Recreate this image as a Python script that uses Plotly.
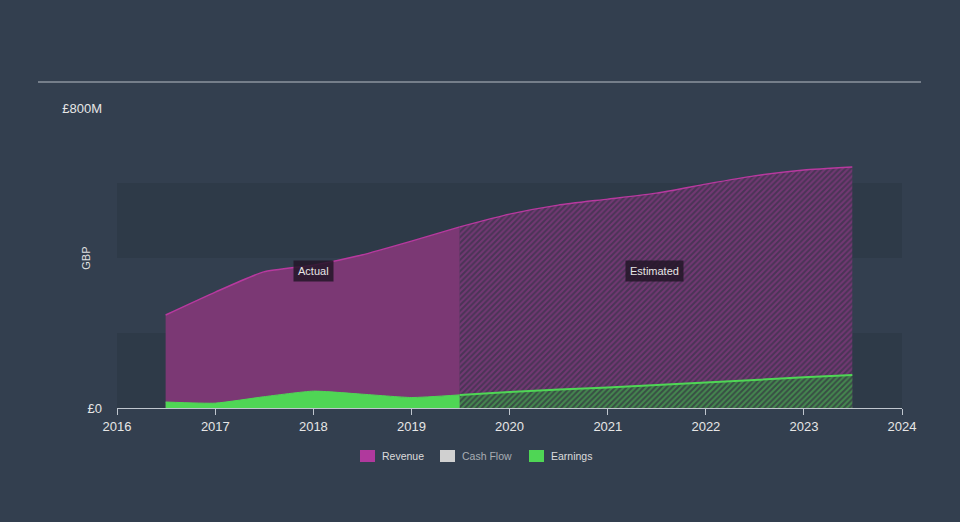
import plotly.graph_objects as go

# ---- data (GBP millions) ----
rev_act_dates = ["2016-06-30", "2017-01-01", "2017-06-30", "2018-01-01", "2018-06-30", "2019-01-01", "2019-06-30"]
rev_act_vals = [248, 309, 363, 381, 408, 445, 483]
rev_est_dates = ["2019-06-30", "2020-01-01", "2020-06-30", "2021-01-01", "2021-06-30", "2022-01-01", "2022-06-30", "2023-01-01", "2023-06-30"]
rev_est_vals = [483, 517, 541, 557, 573, 597, 619, 635, 643]

earn_act_dates = ["2016-06-30", "2017-01-01", "2017-06-30", "2018-01-01", "2018-06-30", "2019-01-01", "2019-06-30"]
earn_act_vals = [16, 13, 30, 45, 37, 28, 35]
earn_est_dates = ["2019-06-30", "2020-01-01", "2021-01-01", "2022-01-01", "2023-01-01", "2023-06-30"]
earn_est_vals = [35, 43, 55, 68, 82, 88]

y_tick_vals = [0, 800]
y_tick_text = ["£0", "£800M"]
x_tick_vals = ["2016-01-01", "2017-01-01", "2018-01-01", "2019-01-01", "2020-01-01",
               "2021-01-01", "2022-01-01", "2023-01-01", "2024-01-01"]
x_tick_text = ["2016", "2017", "2018", "2019", "2020", "2021", "2022", "2023", "2024"]
legend_names = ["Revenue", "Cash Flow", "Earnings"]
legend_colors = ["#b0399d", "#d0d0d0", "#4fd655"]
legend_text_colors = ["#dcdcdc", "#a8adb3", "#dcdcdc"]

BG = "#333f4f"
BAND = "#2e3a48"
FONT = "Liberation Sans, Arial, sans-serif"

# plot-area geometry (pixels) used to place the hand-made legend
L, R, T, B = 117, 58, 108, 114
PW, PH = 960 - L - R, 522 - T - B


def px_x(p):
    return (p - L) / PW


def px_y(p):
    return (522 - B - p) / PH


fig = go.Figure()

# Revenue actual
fig.add_trace(go.Scatter(
    x=rev_act_dates, y=rev_act_vals, mode="lines", fill="tozeroy",
    line=dict(color="#b8399f", width=1.5, shape="spline", smoothing=0.5),
    fillcolor="#7b3874", showlegend=False, hoverinfo="skip"))
# Revenue estimated (hatched)
fig.add_trace(go.Scatter(
    x=rev_est_dates, y=rev_est_vals, mode="lines", fill="tozeroy",
    line=dict(color="#b8399f", width=1.5, shape="spline", smoothing=0.5),
    fillcolor="#4e3458",
    fillpattern=dict(shape="/", fgcolor="#9a3c90", bgcolor="#4a3456", size=4, solidity=0.5),
    showlegend=False, hoverinfo="skip"))
# Earnings actual
fig.add_trace(go.Scatter(
    x=earn_act_dates, y=earn_act_vals, mode="lines", fill="tozeroy",
    line=dict(color="#4fd655", width=1, shape="spline", smoothing=0.5),
    fillcolor="#4fd655", showlegend=False, hoverinfo="skip"))
# Earnings estimated (hatched)
fig.add_trace(go.Scatter(
    x=earn_est_dates, y=earn_est_vals, mode="lines", fill="tozeroy",
    line=dict(color="#4fd655", width=2, shape="spline", smoothing=0.5),
    fillcolor="#384d44",
    fillpattern=dict(shape="/", fgcolor="#52c35a", bgcolor="#384d44", size=4, solidity=0.5),
    showlegend=False, hoverinfo="skip"))

shapes = [
    dict(type="rect", xref="paper", yref="y", x0=0, x1=1, y0=0, y1=200,
         fillcolor=BAND, line=dict(width=0), layer="below"),
    dict(type="rect", xref="paper", yref="y", x0=0, x1=1, y0=400, y1=600,
         fillcolor=BAND, line=dict(width=0), layer="below"),
    dict(type="line", xref="paper", yref="paper", x0=px_x(38), x1=px_x(921),
         y0=px_y(82), y1=px_y(82), line=dict(color="#b8bec6", width=1.2)),
]

annotations = [
    dict(x="2018-01-01", y=365, xref="x", yref="y", text="Actual", showarrow=False,
         font=dict(color="#e6e6e6", size=11, family=FONT),
         bgcolor="rgba(35,22,40,0.85)", borderpad=4),
    dict(x="2021-06-25", y=365, xref="x", yref="y", text="Estimated", showarrow=False,
         font=dict(color="#e6e6e6", size=11, family=FONT),
         bgcolor="rgba(35,22,40,0.85)", borderpad=4),
    dict(x=-0.05, y=0.5, xref="paper", yref="paper", text="GBP", textangle=-90,
         showarrow=False, font=dict(color="#e0e0e0", size=11, family=FONT)),
]

# hand-made legend (swatch + label)
swatch_left = [360, 440, 529]
for name, col, tcol, sx in zip(legend_names, legend_colors, legend_text_colors, swatch_left):
    shapes.append(dict(type="rect", xref="paper", yref="paper",
                       x0=px_x(sx), x1=px_x(sx + 15), y0=px_y(462), y1=px_y(450),
                       fillcolor=col, line=dict(width=0)))
    annotations.append(dict(x=px_x(sx + 20), y=px_y(456), xref="paper", yref="paper",
                            xanchor="left", yanchor="middle", text=name, showarrow=False,
                            font=dict(color=tcol, size=10.5, family=FONT)))

fig.update_layout(
    width=960, height=522,
    margin=dict(l=L, r=R, t=T, b=B),
    paper_bgcolor=BG, plot_bgcolor=BG,
    font=dict(family=FONT, color="#e0e0e0", size=12),
    shapes=shapes, annotations=annotations,
    showlegend=False,
    xaxis=dict(type="date", range=["2016-01-01", "2024-01-01"],
               tickvals=x_tick_vals, ticktext=x_tick_text,
               showgrid=False, zeroline=False, showline=True,
               linecolor="#c0c6ce", linewidth=1.2, ticks="outside", ticklen=6,
               tickcolor="#c0c6ce", tickfont=dict(size=13, color="#e6e6e6")),
    yaxis=dict(range=[0, 800], tickvals=y_tick_vals, ticktext=y_tick_text,
               showgrid=False, zeroline=False, showline=False, ticks="",
               ticklabelstandoff=14, tickfont=dict(size=13, color="#e6e6e6")),
)

fig.write_html("out.html")
